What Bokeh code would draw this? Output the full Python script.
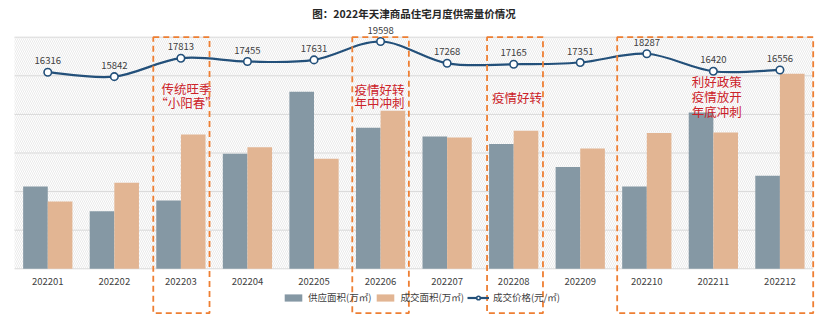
from bokeh.plotting import figure
from bokeh.models import (Range1d, BoxAnnotation, Legend, LegendItem, Label,
                          ColumnDataSource)
from bokeh.core.properties import value
from bokeh.transform import dodge
from bokeh.embed import file_html
from bokeh.resources import INLINE

# ---------------- data ----------------
months = ["202201", "202202", "202203", "202204", "202205", "202206",
          "202207", "202208", "202209", "202210", "202211", "202212"]
supply = [42.6, 29.8, 35.4, 59.6, 91.7, 73.1, 68.5, 64.6, 52.8, 42.6, 81.0, 48.2]
deal = [34.9, 44.6, 69.6, 63.0, 57.0, 81.9, 68.0, 71.5, 62.3, 70.3, 70.6, 101.0]
price = [16316, 15842, 17813, 17455, 17631, 19598, 17268, 17165, 17351, 18287, 16420, 16556]
grid_values = [0, 20, 40, 60, 80, 100, 120]
price_labels = [str(v) for v in price]

title_text = "图：2022年天津商品住宅月度供需量价情况"
series_names = ["供应面积(万㎡)", "成交面积(万㎡)", "成交价格(元/㎡)"]
note_months = [3, 6, 8, 11]
note_lines = [["传统旺季", "“小阳春”"],
              ["疫情好转", "年中冲刺"],
              ["疫情好转"],
              ["利好政策", "疫情放开", "年底冲刺"]]

# ---------------- styling / layout ----------------
W, H = 827, 325
FONT = "Noto Sans CJK SC"
C_SUPPLY = "#8598A4"
C_DEAL = "#E2B593"
C_LINE = "#23507A"
C_RED = "#CC2229"
C_ORANGE = "#EE7F33"
C_GRID = "#d9d9d9"
C_TEXT = "#404040"

# bar scale: value 0 at screen y 268.3, value 120 at screen y 36.7
bar_ppu = (268.3 - 36.7) / 120.0
bar_top = 120 + 36.7 / bar_ppu
bar_bot = -(H - 268.3) / bar_ppu
def sy(px):  # screen y (from top) -> bar value units
    return bar_top - px / bar_ppu

# price scale
pr_ppu = 14.0 / 1497.0
pr_top = 16316 + 71.7 / pr_ppu
pr_bot = 16316 - (H - 71.7) / pr_ppu

# x scale: plot area 14 .. 812.7 px
x_ppu = (812.7 - 14.0) / 12.0
x_start = 0.5 - 14.0 / x_ppu
x_end = 12.5 + (W - 812.7) / x_ppu

idx = list(range(1, len(months) + 1))
src = ColumnDataSource(dict(x=idx, m=months, supply=supply, deal=deal,
                            price=price, plab=price_labels))

p = figure(width=W, height=H, output_backend="svg", toolbar_location=None,
           x_range=Range1d(x_start, x_end), y_range=Range1d(bar_bot, bar_top),
           x_axis_location=None, y_axis_location=None, min_border=0,
           outline_line_color=None, background_fill_color="white")
p.grid.visible = False
p.extra_y_ranges = {"price": Range1d(pr_bot, pr_top)}

# hatched plot area background
p.add_layout(BoxAnnotation(left=0.5, right=12.5, bottom=0, top=120,
                           fill_alpha=0, line_color=None,
                           hatch_pattern="\\", hatch_color="#e4e4e4",
                           hatch_scale=4, hatch_weight=0.8, level="underlay"))

# grid lines
p.segment(x0=0.5, x1=12.5, y0=grid_values, y1=grid_values,
          line_color=C_GRID, line_width=1)

# bars
bw = 0.37
r_sup = p.vbar(x=dodge("x", -bw / 2), top="supply", width=bw, bottom=0,
               source=src, fill_color=C_SUPPLY, line_color=None)
r_deal = p.vbar(x=dodge("x", bw / 2), top="deal", width=bw, bottom=0,
                source=src, fill_color=C_DEAL, line_color=None)

# smooth price curve (cubic Bezier segments through the data points)
n = len(price)
bz = dict(x0=[], y0=[], x1=[], y1=[], cx0=[], cy0=[], cx1=[], cy1=[])
for i in range(n - 1):
    a, b, c, d = max(i - 1, 0), i, i + 1, min(i + 2, n - 1)
    bz["x0"].append(idx[b]); bz["y0"].append(price[b])
    bz["x1"].append(idx[c]); bz["y1"].append(price[c])
    bz["cx0"].append(idx[b] + (idx[c] - idx[a]) / 6.0)
    bz["cy0"].append(price[b] + (price[c] - price[a]) / 6.0)
    bz["cx1"].append(idx[c] - (idx[d] - idx[b]) / 6.0)
    bz["cy1"].append(price[c] - (price[d] - price[b]) / 6.0)
p.bezier(source=ColumnDataSource(bz), x0="x0", y0="y0", x1="x1", y1="y1",
         cx0="cx0", cy0="cy0", cx1="cx1", cy1="cy1",
         line_color=C_LINE, line_width=2.2, y_range_name="price")
# legend-only line (single NaN point so nothing is drawn on the chart)
r_leg_line = p.line(x=[1], y=[float("nan")], line_color=C_LINE, line_width=2.2,
                    y_range_name="price")
r_pts = p.scatter(x="x", y="price", source=src, size=7.5, fill_color="white",
                  line_color=C_LINE, line_width=1.6, y_range_name="price")

# price labels
p.text(x="x", y="price", text="plab", source=src, y_range_name="price",
       y_offset=-8, text_align="center", text_baseline="bottom",
       text_font=value(FONT), text_font_size="9.5px", text_color=C_TEXT)

# x category labels
p.text(x="x", y=sy(280.5), text="m", source=src, text_align="center",
       text_baseline="middle", text_font=value(FONT), text_font_size="9.5px",
       text_color=C_TEXT)

# highlight boxes
box_bounds = [(2.585, 3.43), (5.575, 6.425), (7.60, 8.44), (9.555, 12.5)]
for (l, r) in box_bounds:
    p.add_layout(BoxAnnotation(left=l, right=r, top=120, bottom=sy(312.7),
                               fill_alpha=0, line_color=C_ORANGE, line_alpha=1.0,
                               line_width=1.8, line_dash="6 4"))

# annotation texts
note_x = [3.084, 5.984, 8.05, 11.05]
note_y = [[88.3, 101.7], [89.3, 101.7], [96.7], [81.0, 96.0, 110.5]]
tx, ty, tt = [], [], []
for k, lines in enumerate(note_lines):
    for j, t in enumerate(lines):
        tx.append(note_x[k]); ty.append(sy(note_y[k][j])); tt.append(t)
p.text(x=tx, y=ty, text=tt, text_align="center", text_baseline="middle",
       text_font=value(FONT), text_font_size="12.5px", text_color=C_RED)

# title
p.add_layout(Label(x=413.5, y=H - 13, x_units="screen", y_units="screen",
                   text=title_text, text_align="center", text_baseline="middle",
                   text_font=FONT, text_font_size="10.5px",
                   text_font_style="bold", text_color="#262626"))

# legend
legend = Legend(items=[LegendItem(label=series_names[0], renderers=[r_sup]),
                       LegendItem(label=series_names[1], renderers=[r_deal]),
                       LegendItem(label=series_names[2], renderers=[r_leg_line, r_pts])],
                orientation="horizontal", location=(282, 21),
                background_fill_alpha=0, border_line_color=None,
                label_text_font=FONT, label_text_font_size="9.5px",
                label_text_color=C_TEXT, glyph_width=22, glyph_height=9,
                label_height=12, label_standoff=4, spacing=3,
                padding=0, margin=0)
p.add_layout(legend, "center")

open("out.html", "w").write(file_html(p, INLINE))
